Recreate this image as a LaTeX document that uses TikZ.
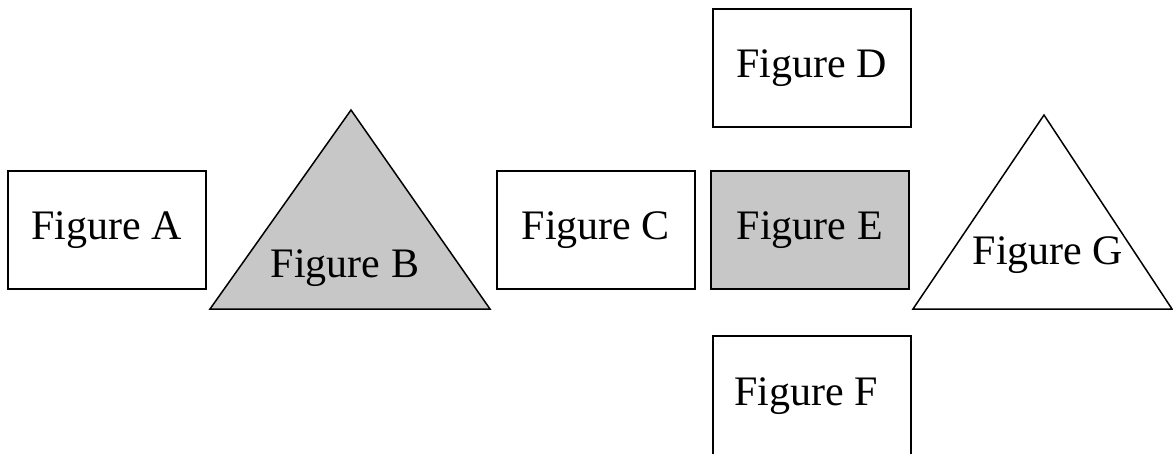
\documentclass[tikz,border=0pt]{standalone}
\usepackage{fontspec}
\setmainfont{Liberation Serif}
\begin{document}
\begin{tikzpicture}[x=1pt,y=-1pt,
  box/.style={draw=black,line width=1.5pt,minimum width=198pt,minimum height=118pt,inner sep=0pt,anchor=north west},
  shade/.style={fill=black!22},
  lbl/.style={font=\fontsize{42}{50}\selectfont,inner sep=0pt},
  tri/.style={draw=black,line width=1.5pt,line join=miter}]
\useasboundingbox (0,0) rectangle (1173,453);
\clip (0,0) rectangle (1173,453);
% rectangles
\node[box] (A) at (7,170) {};
\node[box] (C) at (496,170) {};
\node[box] (D) at (712,8) {};
\node[box,shade] (E) at (710,170) {};
\node[box,minimum height=124pt] (F) at (712,335) {};
\node[lbl] at (A.center) {Figure A};
\node[lbl] at (C.center) {Figure C};
\node[lbl] at (D.center) {Figure D};
\node[lbl] at (E.center) {Figure E};
\node[lbl] at (806,396) {Figure F};
% triangles
\coordinate (Bt) at (351,110);
\coordinate (Bl) at (210,309);
\coordinate (Br) at (490,309);
\draw[tri,shade] (Bt) -- (Bl) -- (Br) -- cycle;
\node[lbl] (B) at (345,268) {Figure B};
\coordinate (Gt) at (1044,115);
\coordinate (Gl) at (913,309);
\coordinate (Gr) at (1172,309);
\draw[tri] (Gt) -- (Gl) -- (Gr) -- cycle;
\node[lbl] (G) at (1048,255) {Figure G};
\end{tikzpicture}
\end{document}
